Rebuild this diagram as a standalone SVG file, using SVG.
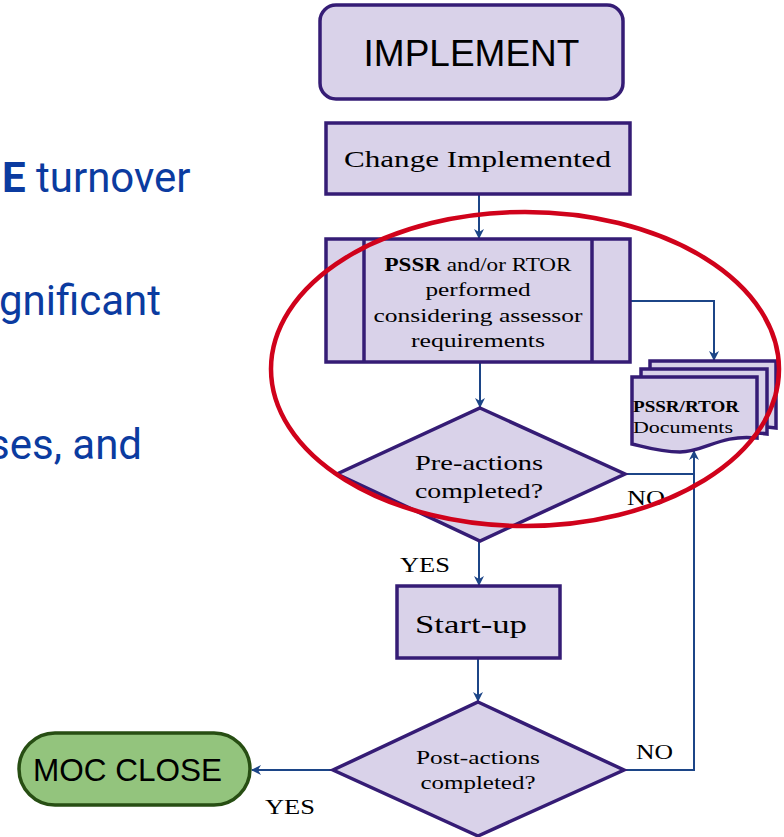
<svg xmlns="http://www.w3.org/2000/svg" width="784" height="837" viewBox="0 0 784 837">
<style>
.box{fill:#d9d2e9;stroke:#351c75;stroke-width:3.5}
.con{fill:none;stroke:#1c4587;stroke-width:2}
.serif{font-family:"Liberation Serif","DejaVu Serif",serif;fill:#000}
.sans{font-family:"Liberation Sans",Arial,sans-serif;fill:#000}
.blue{font-family:Roboto,"Liberation Sans",sans-serif;fill:#0b3ba0;font-size:42px}
</style>
<defs>
<marker id="ah" viewBox="0 0 10 10" refX="9" refY="5" markerWidth="5" markerHeight="5" orient="auto" markerUnits="strokeWidth">
<path d="M0,0 L10,5 L0,10 L3,5 z" fill="#1c4587"/>
</marker>
</defs>
<rect width="784" height="837" fill="#fff"/>
<g id="bg-text">
<text class="blue" x="2" y="192"><tspan font-weight="bold">E</tspan> turnover</text>
<text class="blue" x="-1" y="315">gnificant</text>
<text class="blue" x="-12" y="459">ses, and</text>
</g>
<g id="connectors">
<path class="con" d="M479,194 V238" marker-end="url(#ah)"/>
<path class="con" d="M480,362 V407" marker-end="url(#ah)"/>
<path class="con" d="M630,301 H714 V360" marker-end="url(#ah)"/>
<path class="con" d="M479,541 V585" marker-end="url(#ah)"/>
<path class="con" d="M478,658 V701" marker-end="url(#ah)"/>
<path class="con" d="M625,474 H694"/>
<path class="con" d="M624,770 H694 V451" marker-end="url(#ah)"/>
<path class="con" d="M333,770 H252" marker-end="url(#ah)"/>
<text class="serif" x="400" y="572" font-size="22" textLength="50" lengthAdjust="spacingAndGlyphs">YES</text>
<text class="serif" x="627" y="505" font-size="22" textLength="38" lengthAdjust="spacingAndGlyphs">NO</text>
<text class="serif" x="636" y="759" font-size="22" textLength="37" lengthAdjust="spacingAndGlyphs">NO</text>
<text class="serif" x="265" y="814" font-size="22" textLength="50" lengthAdjust="spacingAndGlyphs">YES</text>
</g>
<g id="implement">
<rect class="box" x="320" y="5" width="303" height="94" rx="16"/>
<text class="sans" x="471.5" y="66" font-size="37" text-anchor="middle">IMPLEMENT</text>
</g>
<g id="change-implemented">
<rect class="box" x="326" y="123" width="304" height="71"/>
<text class="serif" x="344" y="167" font-size="23" textLength="267" lengthAdjust="spacingAndGlyphs">Change Implemented</text>
</g>
<g id="pssr">
<rect class="box" x="326" y="239" width="304" height="123"/>
<line class="box" x1="364" y1="239" x2="364" y2="362"/>
<line class="box" x1="592" y1="239" x2="592" y2="362"/>
<g class="serif" font-size="19" text-anchor="middle">
<text x="478" y="271" textLength="187" lengthAdjust="spacingAndGlyphs"><tspan font-weight="bold">PSSR</tspan> and/or RTOR</text>
<text x="478" y="296" textLength="105" lengthAdjust="spacingAndGlyphs">performed</text>
<text x="478" y="322" textLength="209" lengthAdjust="spacingAndGlyphs">considering assessor</text>
<text x="478" y="347" textLength="134" lengthAdjust="spacingAndGlyphs">requirements</text>
</g>
</g>
<g id="documents">
<path class="box" d="M650,361 H776 V428 C750,424 730,430 710,432 L650,432 Z" stroke-width="3"/>
<path class="box" d="M641,369 H767 V434 C740,430 720,436 700,440 L641,440 Z" stroke-width="3"/>
<path class="box" d="M632,377 H757 V438 C720,434 705,452 680,452 C660,452 645,447 632,444 Z" stroke-width="3"/>
<text class="serif" x="633" y="412" font-size="16" font-weight="bold" textLength="106" lengthAdjust="spacingAndGlyphs">PSSR/RTOR</text>
<text class="serif" x="633" y="433" font-size="16" textLength="100" lengthAdjust="spacingAndGlyphs">Documents</text>
</g>
<g id="pre-actions">
<polygon class="box" points="480,408 625,474 480,541 337,474"/>
<text class="serif" x="479" y="470" font-size="21" text-anchor="middle" textLength="128" lengthAdjust="spacingAndGlyphs">Pre-actions</text>
<text class="serif" x="479" y="498" font-size="21" text-anchor="middle" textLength="128" lengthAdjust="spacingAndGlyphs">completed?</text>
</g>
<g id="start-up">
<rect class="box" x="397" y="586" width="163" height="72"/>
<text class="serif" x="415" y="633" font-size="25" textLength="112" lengthAdjust="spacingAndGlyphs">Start-up</text>
</g>
<g id="post-actions">
<polygon class="box" points="478,702 624,770 478,836 333,770"/>
<text class="serif" x="478" y="764" font-size="19" text-anchor="middle" textLength="124" lengthAdjust="spacingAndGlyphs">Post-actions</text>
<text class="serif" x="478" y="789" font-size="19" text-anchor="middle" textLength="115" lengthAdjust="spacingAndGlyphs">completed?</text>
</g>
<g id="moc-close">
<rect x="19" y="733" width="231" height="72" rx="36" fill="#93c47d" stroke="#274e13" stroke-width="3.5"/>
<text class="sans" x="33" y="781" font-size="31.5">MOC CLOSE</text>
</g>
<g id="highlight">
<ellipse cx="525" cy="369" rx="254" ry="157" fill="none" stroke="#d0021b" stroke-width="4.5"/>
</g>
</svg>
